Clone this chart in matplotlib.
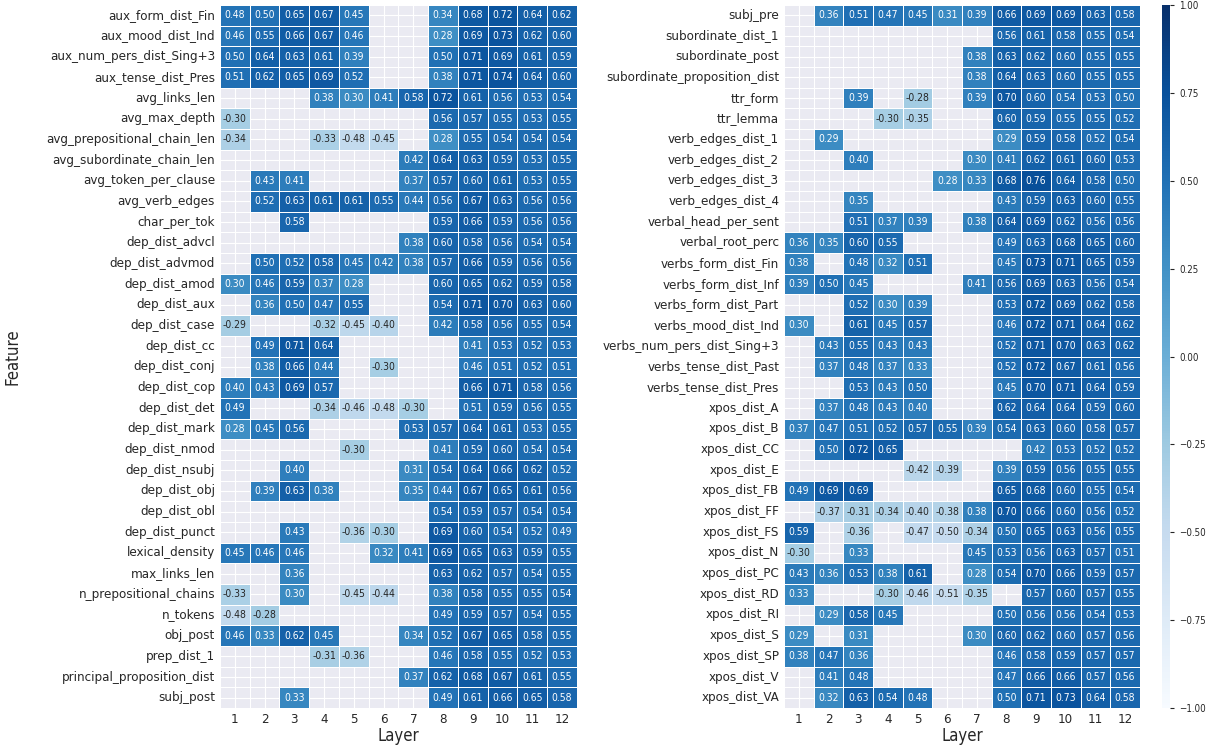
import numpy as np
import pandas as pd
import matplotlib
matplotlib.use("Agg")
import matplotlib.pyplot as plt
import seaborn as sns

# Layer-wise correlations of linguistic features (blank = not significant)
layers = list(range(1, 13))

features_left = [
    "aux_form_dist_Fin", "aux_mood_dist_Ind", "aux_num_pers_dist_Sing+3",
    "aux_tense_dist_Pres", "avg_links_len", "avg_max_depth",
    "avg_prepositional_chain_len", "avg_subordinate_chain_len",
    "avg_token_per_clause", "avg_verb_edges", "char_per_tok",
    "dep_dist_advcl", "dep_dist_advmod", "dep_dist_amod", "dep_dist_aux",
    "dep_dist_case", "dep_dist_cc", "dep_dist_conj", "dep_dist_cop",
    "dep_dist_det", "dep_dist_mark", "dep_dist_nmod", "dep_dist_nsubj",
    "dep_dist_obj", "dep_dist_obl", "dep_dist_punct", "lexical_density",
    "max_links_len", "n_prepositional_chains", "n_tokens", "obj_post",
    "prep_dist_1", "principal_proposition_dist", "subj_post",
]
N = None
values_left = [
    [.48, .50, .65, .67, .45, N, N, .34, .68, .72, .64, .62],
    [.46, .55, .66, .67, .46, N, N, .28, .69, .73, .62, .60],
    [.50, .64, .63, .61, .39, N, N, .50, .71, .69, .61, .59],
    [.51, .62, .65, .69, .52, N, N, .38, .71, .74, .64, .60],
    [N, N, N, .38, .30, .41, .58, .72, .61, .56, .53, .54],
    [-.30, N, N, N, N, N, N, .56, .57, .55, .53, .55],
    [-.34, N, N, -.33, -.48, -.45, N, .28, .55, .54, .54, .54],
    [N, N, N, N, N, N, .42, .64, .63, .59, .53, .55],
    [N, .43, .41, N, N, N, .37, .57, .60, .61, .53, .55],
    [N, .52, .63, .61, .61, .55, .44, .56, .67, .63, .56, .56],
    [N, N, .58, N, N, N, N, .59, .66, .59, .56, .56],
    [N, N, N, N, N, N, .38, .60, .58, .56, .54, .54],
    [N, .50, .52, .58, .45, .42, .38, .57, .66, .59, .56, .56],
    [.30, .46, .59, .37, .28, N, N, .60, .65, .62, .59, .58],
    [N, .36, .50, .47, .55, N, N, .54, .71, .70, .63, .60],
    [-.29, N, N, -.32, -.45, -.40, N, .42, .58, .56, .55, .54],
    [N, .49, .71, .64, N, N, N, N, .41, .53, .52, .53],
    [N, .38, .66, .44, N, -.30, N, N, .46, .51, .52, .51],
    [.40, .43, .69, .57, N, N, N, N, .66, .71, .58, .56],
    [.49, N, N, -.34, -.46, -.48, -.30, N, .51, .59, .56, .55],
    [.28, .45, .56, N, N, N, .53, .57, .64, .61, .53, .55],
    [N, N, N, N, -.30, N, N, .41, .59, .60, .54, .54],
    [N, N, .40, N, N, N, .31, .54, .64, .66, .62, .52],
    [N, .39, .63, .38, N, N, .35, .44, .67, .65, .61, .56],
    [N, N, N, N, N, N, N, .54, .59, .57, .54, .54],
    [N, N, .43, N, -.36, -.30, N, .69, .60, .54, .52, .49],
    [.45, .46, .46, N, N, .32, .41, .69, .65, .63, .59, .55],
    [N, N, .36, N, N, N, N, .63, .62, .57, .54, .55],
    [-.33, N, .30, N, -.45, -.44, N, .38, .58, .55, .55, .54],
    [-.48, -.28, N, N, N, N, N, .49, .59, .57, .54, .55],
    [.46, .33, .62, .45, N, N, .34, .52, .67, .65, .58, .55],
    [N, N, N, -.31, -.36, N, N, .46, .58, .55, .52, .53],
    [N, N, N, N, N, N, .37, .62, .68, .67, .61, .55],
    [N, N, .33, N, N, N, N, .49, .61, .66, .65, .58],
]

features_right = [
    "subj_pre", "subordinate_dist_1", "subordinate_post",
    "subordinate_proposition_dist", "ttr_form", "ttr_lemma",
    "verb_edges_dist_1", "verb_edges_dist_2", "verb_edges_dist_3",
    "verb_edges_dist_4", "verbal_head_per_sent", "verbal_root_perc",
    "verbs_form_dist_Fin", "verbs_form_dist_Inf", "verbs_form_dist_Part",
    "verbs_mood_dist_Ind", "verbs_num_pers_dist_Sing+3",
    "verbs_tense_dist_Past", "verbs_tense_dist_Pres", "xpos_dist_A",
    "xpos_dist_B", "xpos_dist_CC", "xpos_dist_E", "xpos_dist_FB",
    "xpos_dist_FF", "xpos_dist_FS", "xpos_dist_N", "xpos_dist_PC",
    "xpos_dist_RD", "xpos_dist_RI", "xpos_dist_S", "xpos_dist_SP",
    "xpos_dist_V", "xpos_dist_VA",
]
values_right = [
    [N, .36, .51, .47, .45, .31, .39, .66, .69, .69, .63, .58],
    [N, N, N, N, N, N, N, .56, .61, .58, .55, .54],
    [N, N, N, N, N, N, .38, .63, .62, .60, .55, .55],
    [N, N, N, N, N, N, .38, .64, .63, .60, .55, .55],
    [N, N, .39, N, -.28, N, .39, .70, .60, .54, .53, .50],
    [N, N, N, -.30, -.35, N, N, .60, .59, .55, .55, .52],
    [N, .29, N, N, N, N, N, .29, .59, .58, .52, .54],
    [N, N, .40, N, N, N, .30, .41, .62, .61, .60, .53],
    [N, N, N, N, N, .28, .33, .68, .76, .64, .58, .50],
    [N, N, .35, N, N, N, N, .43, .59, .63, .60, .55],
    [N, N, .51, .37, .39, N, .38, .64, .69, .62, .56, .56],
    [.36, .35, .60, .55, N, N, N, .49, .63, .68, .65, .60],
    [.38, N, .48, .32, .51, N, N, .45, .73, .71, .65, .59],
    [.39, .50, .45, N, N, N, .41, .56, .69, .63, .56, .54],
    [N, N, .52, .30, .39, N, N, .53, .72, .69, .62, .58],
    [.30, N, .61, .45, .57, N, N, .46, .72, .71, .64, .62],
    [N, .43, .55, .43, .43, N, N, .52, .71, .70, .63, .62],
    [N, .37, .48, .37, .33, N, N, .52, .72, .67, .61, .56],
    [N, N, .53, .43, .50, N, N, .45, .70, .71, .64, .59],
    [N, .37, .48, .43, .40, N, N, .62, .64, .64, .59, .60],
    [.37, .47, .51, .52, .57, .55, .39, .54, .63, .60, .58, .57],
    [N, .50, .72, .65, N, N, N, N, .42, .53, .52, .52],
    [N, N, N, N, -.42, -.39, N, .39, .59, .56, .55, .55],
    [.49, .69, .69, N, N, N, N, .65, .68, .60, .55, .54],
    [N, -.37, -.31, -.34, -.40, -.38, .38, .70, .66, .60, .56, .52],
    [.59, N, -.36, N, -.47, -.50, -.34, .50, .65, .63, .56, .55],
    [-.30, N, .33, N, N, N, .45, .53, .56, .63, .57, .51],
    [.43, .36, .53, .38, .61, N, .28, .54, .70, .66, .59, .57],
    [.33, N, N, -.30, -.46, -.51, -.35, N, .57, .60, .57, .55],
    [N, .29, .58, .45, N, N, N, .50, .56, .56, .54, .53],
    [.29, N, .31, N, N, N, .30, .60, .62, .60, .57, .56],
    [.38, .47, .36, N, N, N, N, .46, .58, .59, .57, .57],
    [N, .41, .48, N, N, N, N, .47, .66, .66, .57, .56],
    [N, .32, .63, .54, .48, N, N, .50, .71, .73, .64, .58],
]
cbar_ticks = [-1, -0.75, -0.5, -0.25, 0, 0.25, 0.5, 0.75, 1]


def _frame(rows, feats):
    return pd.DataFrame(np.array(rows, dtype=float), index=feats, columns=layers)


sns.set_style("darkgrid")
plt.rcParams["font.stretch"] = "condensed"
fig = plt.figure(figsize=(12.1, 7.46), dpi=100)
ax_l = fig.add_axes([0.1818, 0.0509, 0.295, 0.9424])
ax_r = fig.add_axes([0.648, 0.0509, 0.294, 0.9424])
cax = fig.add_axes([0.9603, 0.0509, 0.0066, 0.9424])

kw = dict(cmap="Blues", vmin=-1, vmax=1, annot=True, fmt=".2f",
          annot_kws={"size": 7.5}, linewidths=0.5, linecolor="white")
sns.heatmap(_frame(values_left, features_left), ax=ax_l, cbar=False, **kw)
sns.heatmap(_frame(values_right, features_right), ax=ax_r, cbar_ax=cax, **kw)

for ax in (ax_l, ax_r):
    ax.tick_params(labelsize=9.5, length=0)
    ax.set_yticklabels(ax.get_yticklabels(), rotation=0)
    ax.set_xticklabels(ax.get_xticklabels(), rotation=0)
    ax.set_xlabel("Layer", fontsize=12, labelpad=1)
ax_l.set_ylabel("Feature", fontsize=12, labelpad=18)

cax.set_yticks(cbar_ticks)
cax.set_yticklabels([f"{t:.2f}".replace("-", "\u2212") for t in cbar_ticks])
cax.tick_params(labelsize=7, right=True, length=3, width=0.8, colors="#262626")

fig.savefig("out.png", dpi=100)
